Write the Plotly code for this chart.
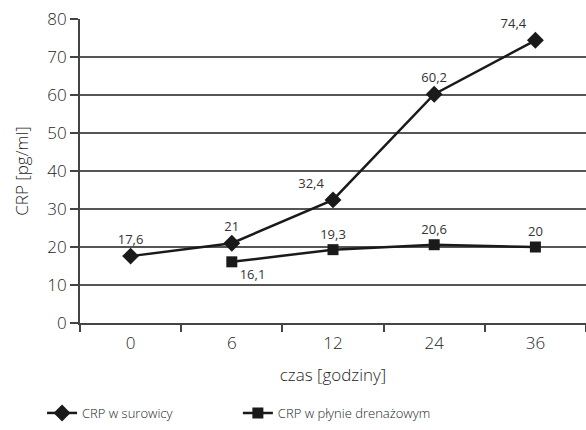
import plotly.graph_objects as go

# Czas pomiaru [godziny] i stężenie CRP [pg/ml]
czas = ["0", "6", "12", "24", "36"]
crp_surowica = [17.6, 21, 32.4, 60.2, 74.4]
czas_dren = ["6", "12", "24", "36"]
crp_dren = [16.1, 19.3, 20.6, 20]

def fmt(v):
    s = f"{v:g}"
    return s.replace(".", ",")

ink = "#1a1a1a"
txt = "#262626"
font = "Open Sans"
light = dict(family=font, size=17, color=txt, weight=300)

fig = go.Figure()
fig.add_trace(go.Scatter(
    x=czas, y=crp_surowica, name="CRP w surowicy",
    mode="lines+markers+text",
    line=dict(color=ink, width=2.5),
    marker=dict(symbol="diamond", size=13, color=ink),
    text=[fmt(v) for v in crp_surowica],
    textposition=["top center", "top center", "top left", "top center", "top left"],
    textfont=dict(size=13, color="#333333", family=font, weight=400),
    cliponaxis=False, legend="legend",
))
fig.add_trace(go.Scatter(
    x=czas_dren, y=crp_dren, name="CRP w płynie drenażowym",
    mode="lines+markers+text",
    line=dict(color=ink, width=2.5),
    marker=dict(symbol="square", size=11, color=ink),
    text=[fmt(v) for v in crp_dren],
    textposition=["bottom right", "top center", "top center", "top center"],
    textfont=dict(size=13, color="#333333", family=font, weight=400),
    cliponaxis=False, legend="legend2",
))

leg = dict(orientation="h", xanchor="left", y=-0.296, yanchor="middle",
           font=dict(size=13, color=txt, family=font, weight=300), itemwidth=30)

fig.update_layout(
    width=586, height=430,
    margin=dict(l=80, r=0, t=19, b=107),
    paper_bgcolor="white", plot_bgcolor="white",
    font=light,
    showlegend=True,
    legend=dict(leg, x=-0.075),
    legend2=dict(leg, x=0.312),
    xaxis=dict(
        type="category", categoryorder="array", categoryarray=czas,
        range=[-0.5, 4.5], tickson="boundaries",
        ticks="outside", ticklen=7, tickwidth=1.5, tickcolor="#444",
        showline=True, linecolor="#444", linewidth=2,
        showgrid=False, zeroline=False,
        tickfont=light,
        ticklabelstandoff=4,
        title=dict(text="czas [godziny]", font=light, standoff=16),
    ),
    yaxis=dict(
        range=[0, 80], dtick=10,
        ticks="outside", ticklen=8, tickwidth=1.5, tickcolor="#444",
        showline=True, linecolor="#444", linewidth=2,
        showgrid=True, gridcolor="#555", gridwidth=1.5,
        zeroline=False,
        tickfont=light,
        title=dict(text="CRP [pg/ml]", font=light, standoff=14),
    ),
)

fig.write_html("out.html")
